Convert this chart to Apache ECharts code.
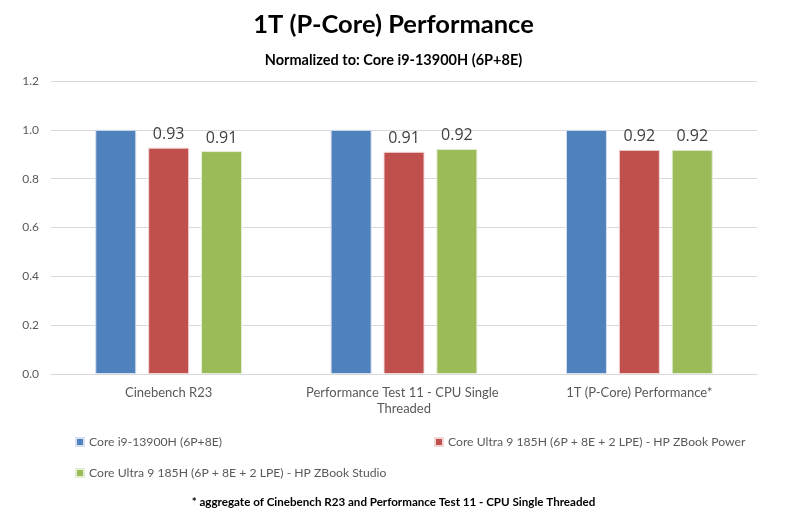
<!DOCTYPE html>
<html>
<head>
<meta charset="utf-8">
<script src="https://cdn.jsdelivr.net/npm/echarts@6/dist/echarts.min.js"></script>
<style>html,body{margin:0;padding:0;background:#fff;}#c{width:787px;height:526px;}</style>
</head>
<body>
<div id="c"></div>
<script>
var categories = ['Cinebench R23', 'Performance Test 11 - CPU Single Threaded', '1T (P-Core) Performance*'];
var seriesNames = ['Core i9-13900H (6P+8E)', 'Core Ultra 9 185H (6P + 8E + 2 LPE) - HP ZBook Power', 'Core Ultra 9 185H (6P + 8E + 2 LPE) - HP ZBook Studio'];
var coreI9 = [1.0, 1.0, 1.0];
var zbookPower = [0.927, 0.910, 0.918];
var zbookStudio = [0.913, 0.922, 0.918];
var yTicks = [0, 0.2, 0.4, 0.6, 0.8, 1.0, 1.2];
var colors = ['#4F81BD', '#C0504D', '#9BBB59'];
var FONT = 'Lato, "Open Sans", sans-serif';

var chart = echarts.init(document.getElementById('c'));
function legendFor(name, left, top) {
  return {
    data: [name], left: left, top: top, icon: 'rect', itemWidth: 8, itemHeight: 8, itemGap: 4,
    textStyle: { color: '#595959', fontSize: 12.2, fontFamily: FONT }
  };
}
var labelCfg = function(show) {
  return {
    show: show, position: 'top', distance: 5, color: '#404040', fontSize: 16, fontFamily: '"Open Sans", sans-serif',
    formatter: function(p) { return p.value.toFixed(2); }
  };
};
chart.setOption({
  animation: false,
  color: colors,
  title: [
    { text: '1T (P-Core) Performance', left: 'center', top: 7,
      textStyle: { fontFamily: FONT, fontWeight: 'bold', fontSize: 25.5, color: '#000' } },
    { text: 'Normalized to: Core i9-13900H (6P+8E)', left: 'center', top: 48,
      textStyle: { fontFamily: FONT, fontWeight: 'bold', fontSize: 14.5, color: '#000' } },
    { text: '* aggregate of Cinebench R23 and Performance Test 11 - CPU Single Threaded', left: 'center', top: 491,
      textStyle: { fontFamily: FONT, fontWeight: 'bold', fontSize: 11.6, color: '#000' } }
  ],
  legend: [
    legendFor(seriesNames[0], 70, 431),
    legendFor(seriesNames[1], 429, 431),
    legendFor(seriesNames[2], 70, 462)
  ],
  grid: { left: 51, right: 30, top: 81, bottom: 152 },
  xAxis: {
    type: 'category', data: categories,
    axisLine: { lineStyle: { color: '#D9D9D9' } },
    axisTick: { show: false },
    axisLabel: { interval: 0, color: '#595959', fontSize: 13, fontFamily: FONT, width: 200, overflow: 'break', lineHeight: 16, margin: 11 }
  },
  yAxis: {
    type: 'value', min: 0, max: 1.2, interval: 0.2,
    axisLine: { show: false }, axisTick: { show: false },
    splitLine: { lineStyle: { color: '#D9D9D9' } },
    axisLabel: { color: '#595959', fontSize: 12, fontFamily: FONT, margin: 12,
      formatter: function(v) { return v.toFixed(1); } }
  },
  series: [
    { name: seriesNames[0], type: 'bar', data: coreI9, barWidth: 41, barGap: '29%',
      itemStyle: { color: colors[0], borderColor: '#D6E0EE', borderWidth: 1 }, label: labelCfg(false) },
    { name: seriesNames[1], type: 'bar', data: zbookPower, barWidth: 41, barGap: '29%',
      itemStyle: { color: colors[1], borderColor: '#F0D6D5', borderWidth: 1 }, label: labelCfg(true) },
    { name: seriesNames[2], type: 'bar', data: zbookStudio, barWidth: 41, barGap: '29%',
      itemStyle: { color: colors[2], borderColor: '#E4EED5', borderWidth: 1 }, label: labelCfg(true) }
  ]
});
</script>
</body>
</html>
